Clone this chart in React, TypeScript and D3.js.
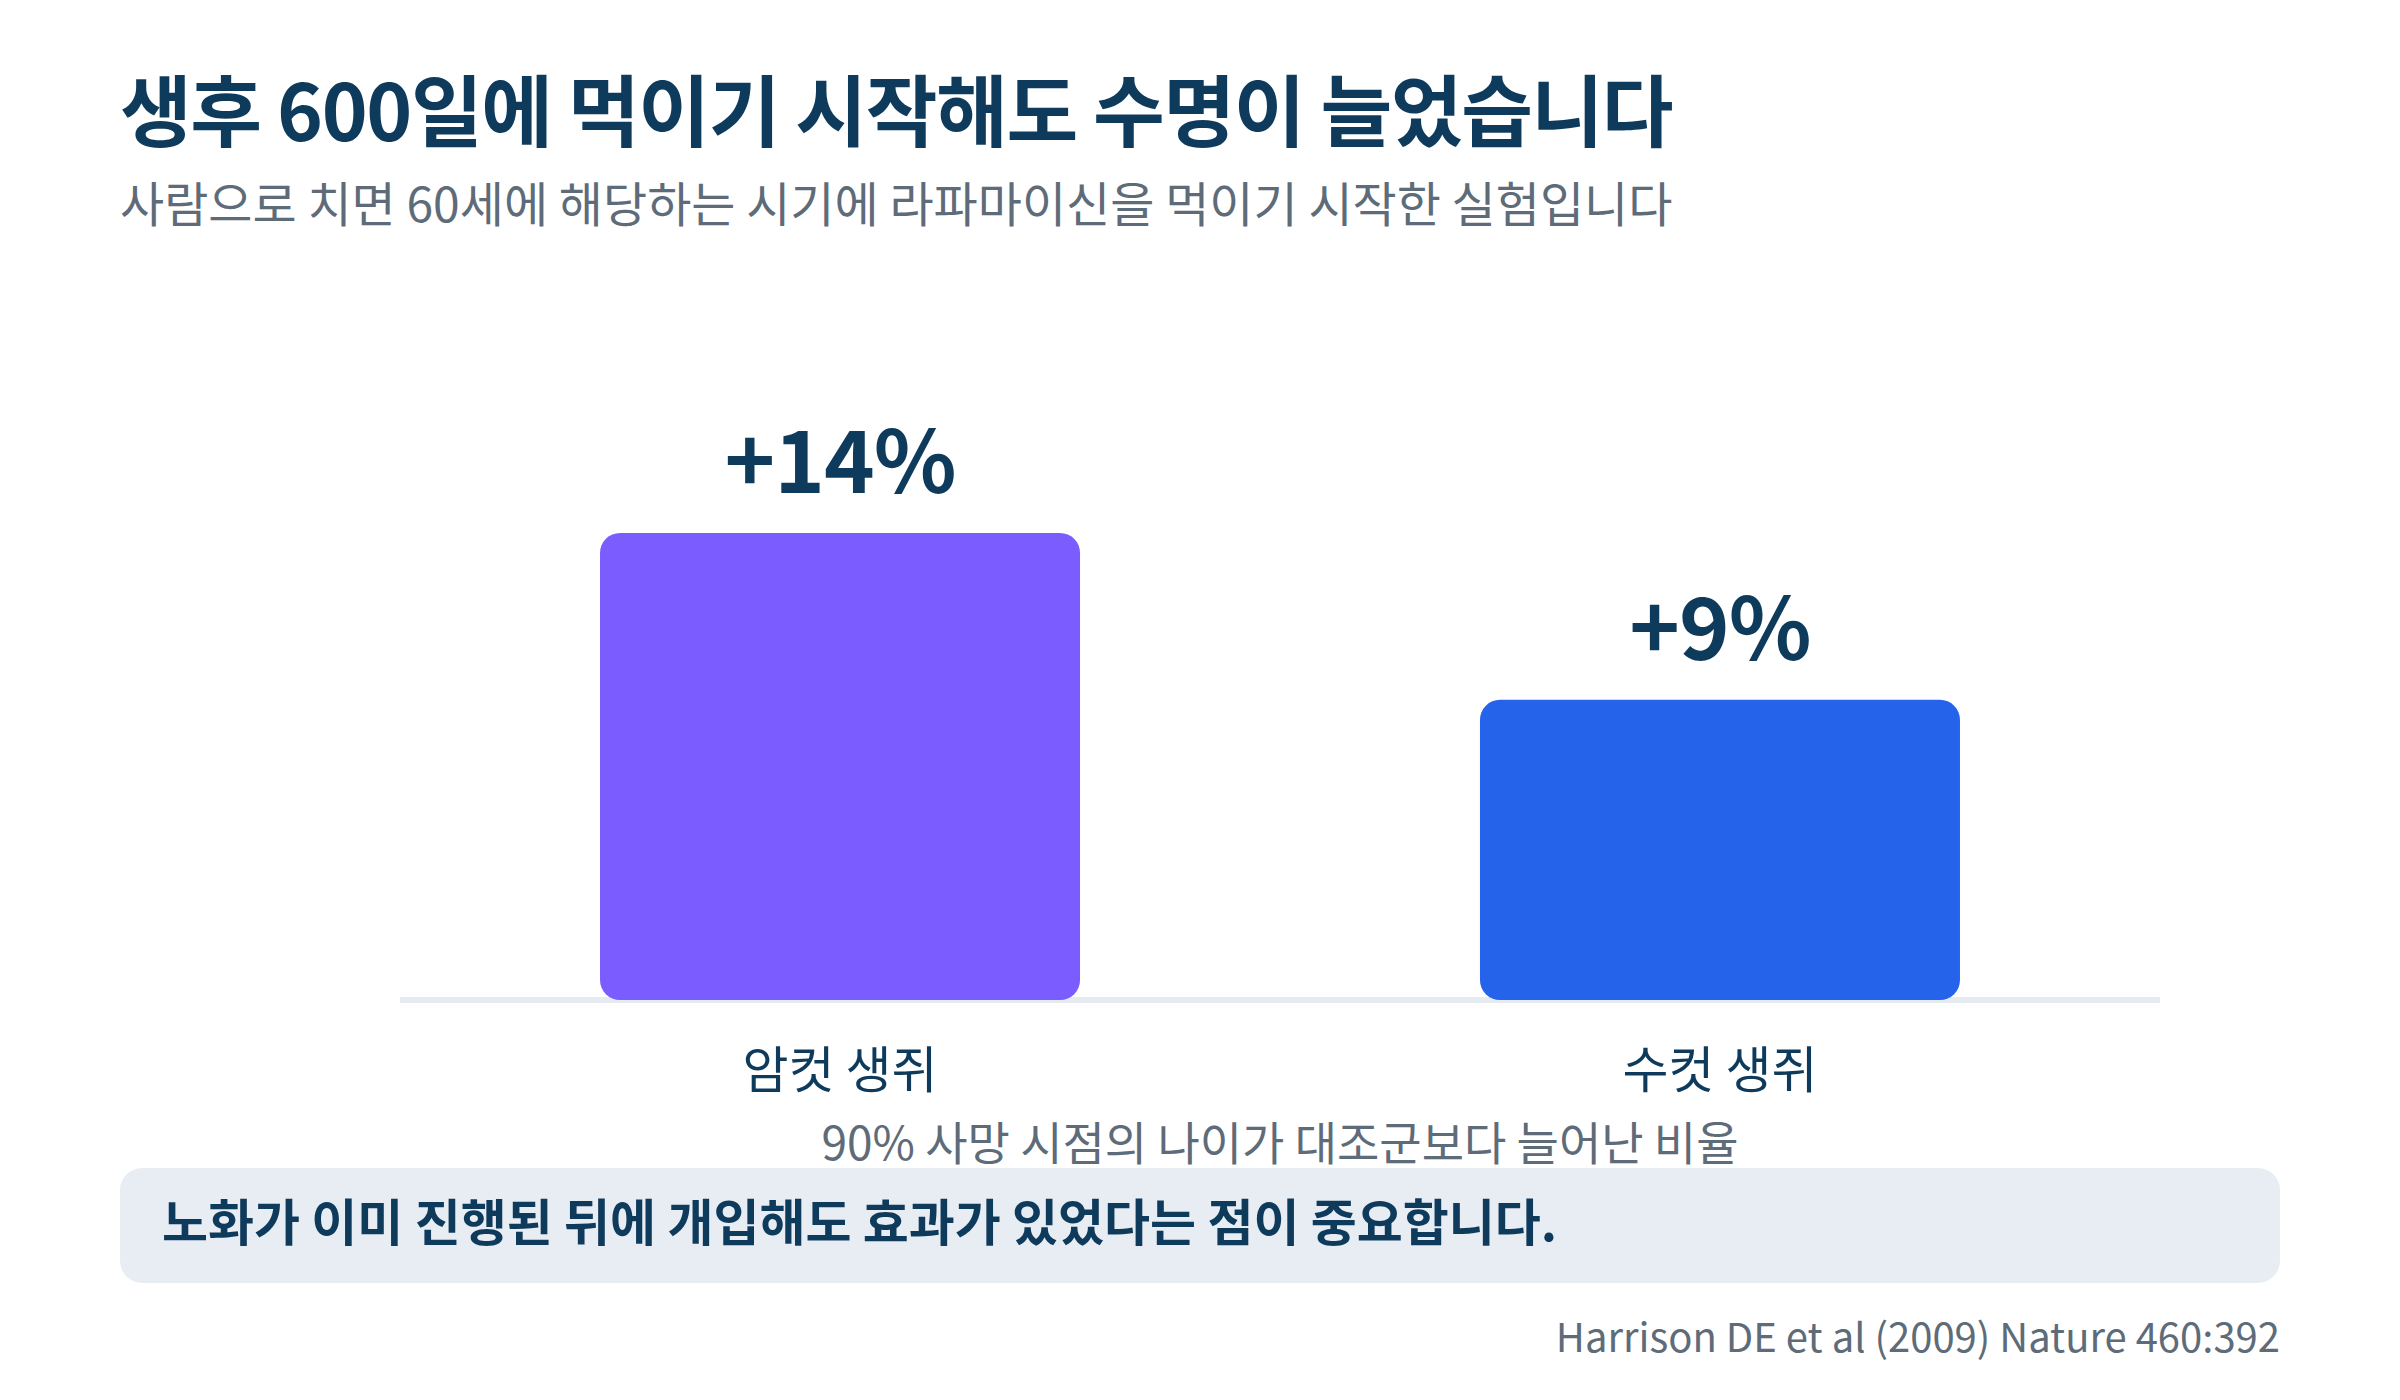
import React from 'react'
import * as d3 from 'd3'

const title = '생후 600일에 먹이기 시작해도 수명이 늘었습니다'
const subtitle = '사람으로 치면 60세에 해당하는 시기에 라파마이신을 먹이기 시작한 실험입니다'
const categories = ['암컷 생쥐', '수컷 생쥐']
const lifespanGain = [14, 9]
const valueLabels = ['+14%', '+9%']
const barColors = ['#7b5cff', '#2563eb']
const axisTitle = '90% 사망 시점의 나이가 대조군보다 늘어난 비율'
const note = '노화가 이미 진행된 뒤에 개입해도 효과가 있었다는 점이 중요합니다.'
const source = 'Harrison DE et al (2009) Nature 460:392'

const W = 2400
const H = 1400
const FONT = '"Noto Sans CJK KR", "Noto Sans", sans-serif'
const NAVY = '#0e3a5c'
const GRAY = '#5e6b79'

function App() {
  const x = d3.scaleBand<string>().domain(categories).range([400, 2160]).paddingInner(0.4545).paddingOuter(0.2273)
  const y = d3.scaleLinear().domain([0, 14]).range([1000, 533])
  const r = 20

  return (
    <svg width={W} height={H} style={{position: 'absolute', left: 0, top: 0, background: '#fff'}} fontFamily={FONT}>
      <text x={120} y={141} fontSize={78} fontWeight={700} fill={NAVY} letterSpacing={-1.4}>
        {title}
      </text>
      <text x={120} y={222} fontSize={48} fill={GRAY}>
        {subtitle}
      </text>

      <line x1={x.range()[0]} x2={x.range()[1]} y1={y(0)} y2={y(0)} stroke="#e6ebf2" strokeWidth={6} />

      {categories.map((c, i) => {
        const bx = x(c) as number
        const bw = x.bandwidth()
        const top = y(lifespanGain[i])
        const h = y(0) - top
        return (
          <g key={c}>
            <rect x={bx} y={top} width={bw} height={h} rx={r} ry={r} fill={barColors[i]} />
            <text x={bx + bw / 2} y={top - 40} textAnchor="middle" fontSize={86} fontWeight={700} fill={NAVY} letterSpacing={-1}>
              {valueLabels[i]}
            </text>
            <text x={bx + bw / 2} y={1088} textAnchor="middle" fontSize={50} fill={NAVY}>
              {c}
            </text>
          </g>
        )
      })}

      <text x={(x.range()[0] + x.range()[1]) / 2} y={1160} textAnchor="middle" fontSize={46} fill={GRAY}>
        {axisTitle}
      </text>

      <rect x={120} y={1168} width={2160} height={115} rx={22} ry={22} fill="#e8edf4" />
      <text x={162} y={1241} fontSize={50} fontWeight={700} fill={NAVY}>
        {note}
      </text>

      <text x={2280} y={1352} textAnchor="end" fontSize={40} fill={GRAY}>
        {source}
      </text>
    </svg>
  )
}

export default App
